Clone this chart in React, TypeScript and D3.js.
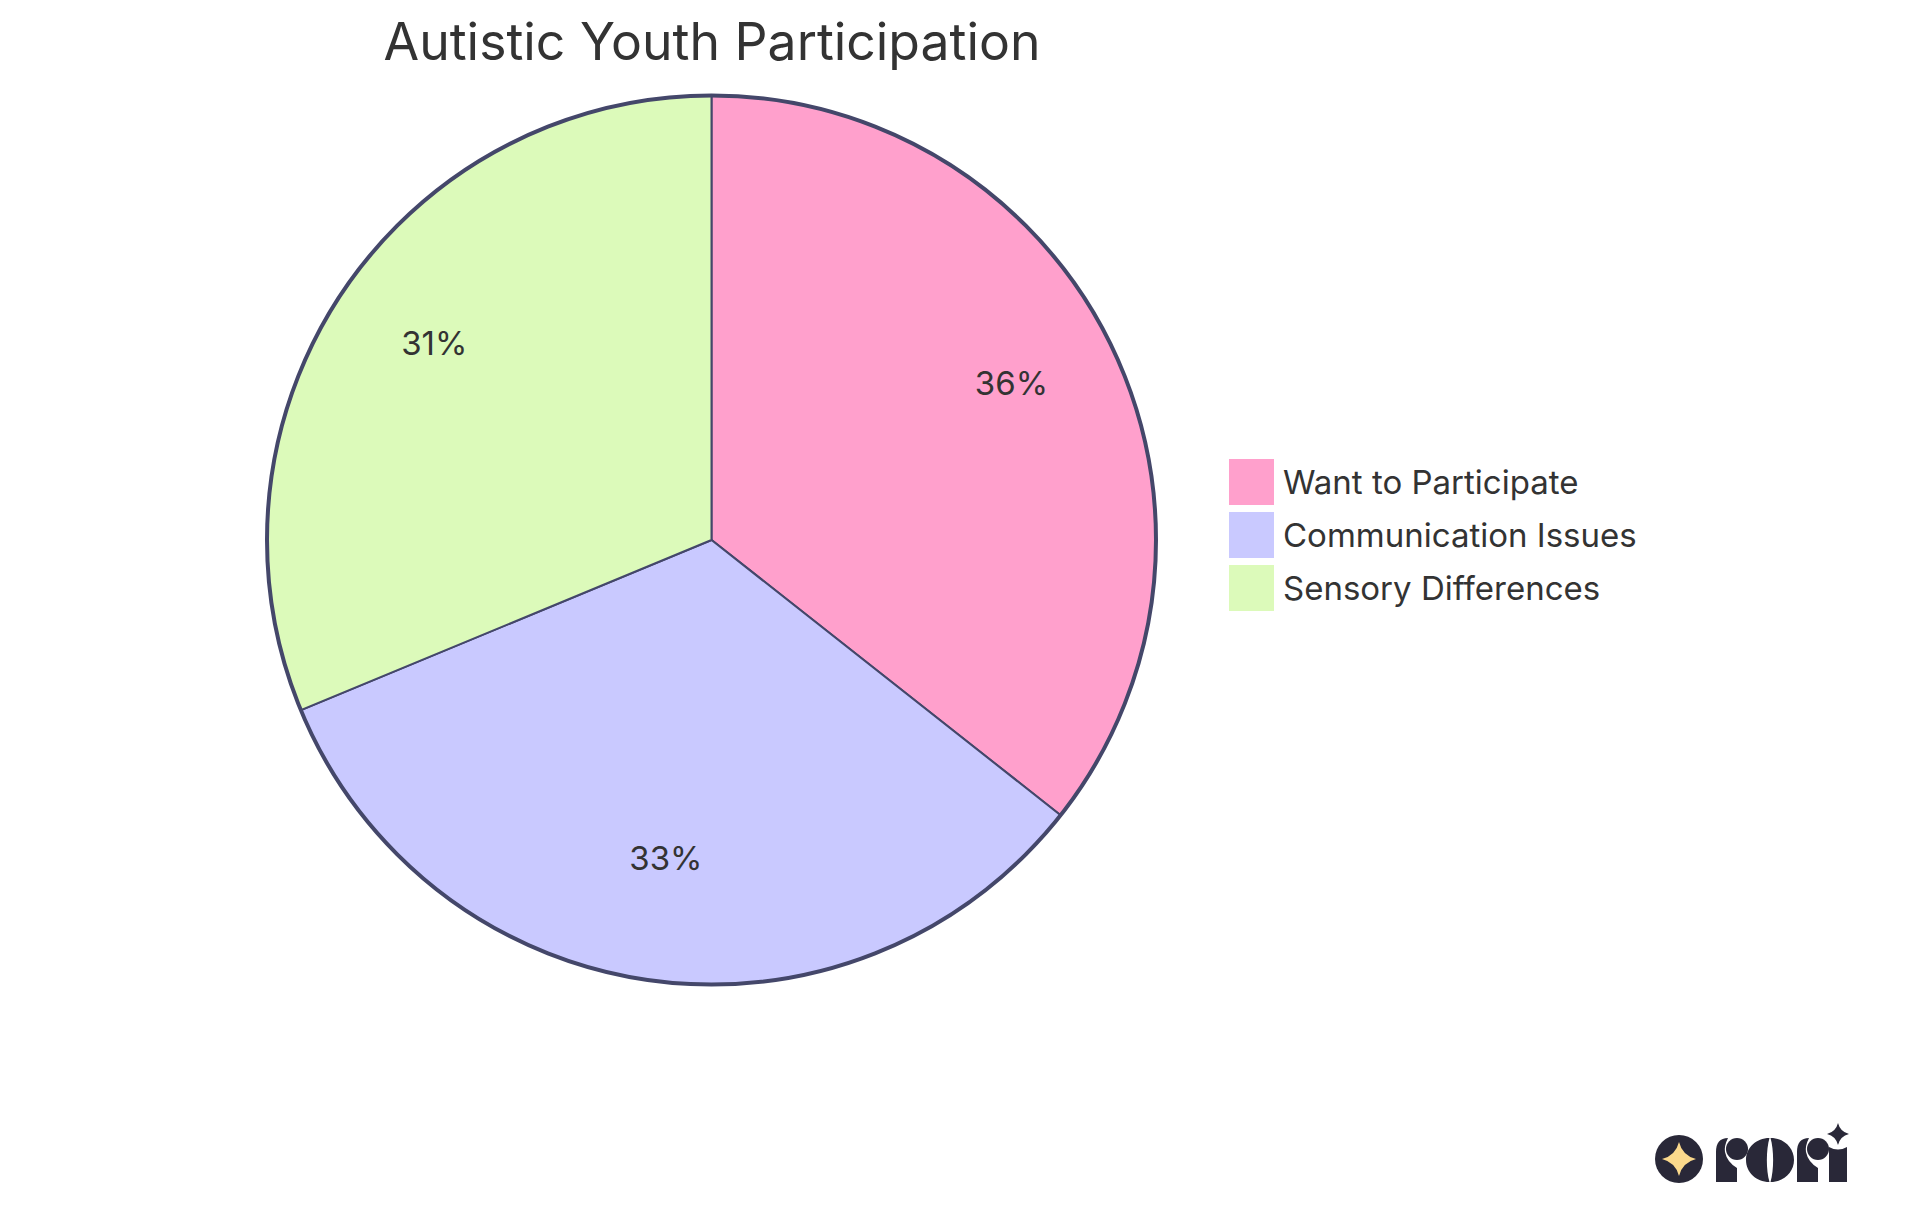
import * as d3 from "d3";

const categories = ["Want to Participate", "Communication Issues", "Sensory Differences"];
const values = [57, 53, 50];
const percentLabels = ["36%", "33%", "31%"];
const colors = ["#FFA0CC", "#C9C9FF", "#DCFABA"];

const WIDTH = 1920;
const HEIGHT = 1215;
const FONT = "Inter, 'Noto Sans', sans-serif";
const TEXT = "#333333";
const STROKE = "#44476A";
const LOGO = "#292838";

const cx = 711.5;
const cy = 540;
const radius = 444.5;

// four pointed sparkle, used in the logo
function sparkle(x: number, y: number, rx: number, ry: number) {
  const k = 0.2;
  return `M${x},${y - ry}Q${x + rx * k},${y - ry * k} ${x + rx},${y}Q${x + rx * k},${y + ry * k} ${x},${y + ry}Q${x - rx * k},${y + ry * k} ${x - rx},${y}Q${x - rx * k},${y - ry * k} ${x},${y - ry}Z`;
}

function LogoR({ x }: { x: number }) {
  return (
    <g fill={LOGO}>
      <path d={`M${x},1182V1152Q${x},1138 ${x + 12},1138Q${x + 8},1146 ${x + 9},1152Q${x + 11},1162 ${x + 21},1168V1182Z`} />
      <circle cx={x + 21} cy={1149} r={11} />
    </g>
  );
}

export default function App() {
  const pie = d3.pie<number>().sort(null)(values);
  const arc = d3.arc<d3.PieArcDatum<number>>().innerRadius(0).outerRadius(radius);
  const labelArc = d3
    .arc<d3.PieArcDatum<number>>()
    .innerRadius(radius * 0.75)
    .outerRadius(radius * 0.75);

  const legendY = d3.scalePoint<string>().domain(categories).range([482, 588]);

  return (
    <svg
      width={WIDTH}
      height={HEIGHT}
      viewBox={`0 0 ${WIDTH} ${HEIGHT}`}
      style={{ position: "absolute", left: 0, top: 0, background: "#fff" }}
      fontFamily={FONT}
    >
      <text x={712} y={60} textAnchor="middle" fontSize={51.7} fill={TEXT}>
        Autistic Youth Participation
      </text>

      <g transform={`translate(${cx},${cy})`}>
        {pie.map((d, i) => (
          <path key={categories[i]} d={arc(d) ?? ""} fill={colors[i]} stroke={STROKE} strokeWidth={2} />
        ))}
        <circle r={radius} fill="none" stroke={STROKE} strokeWidth={4} />
        {pie.map((d, i) => {
          const [x, y] = labelArc.centroid(d);
          return (
            <text key={percentLabels[i]} x={x} y={y} textAnchor="middle" fontSize={33} fill={TEXT}>
              {percentLabels[i]}
            </text>
          );
        })}
      </g>

      {categories.map((c, i) => (
        <g key={c} transform={`translate(1229,${legendY(c)})`}>
          <rect y={-23} width={45} height={46} fill={colors[i]} />
          <text x={54} y={12} fontSize={33} fill={TEXT}>
            {c}
          </text>
        </g>
      ))}

      <circle cx={1679} cy={1159} r={24} fill={LOGO} />
      <path d={sparkle(1679, 1159, 17, 17)} fill="#FBD98C" />
      <LogoR x={1716} />
      <path d="M1769.5,1138C1756,1138 1746,1148 1746,1160C1746,1172 1756,1182 1769.5,1182C1766,1170 1766,1150 1769.5,1138Z" fill={LOGO} />
      <path d="M1770.5,1138C1784,1138 1794,1148 1794,1160C1794,1172 1784,1182 1770.5,1182C1774,1170 1774,1150 1770.5,1138Z" fill={LOGO} />
      <LogoR x={1797} />
      <path d="M1829,1147Q1838,1152 1847,1147V1182H1829Z" fill={LOGO} />
      <path d={sparkle(1838, 1134, 11, 11)} fill={LOGO} />
    </svg>
  );
}
